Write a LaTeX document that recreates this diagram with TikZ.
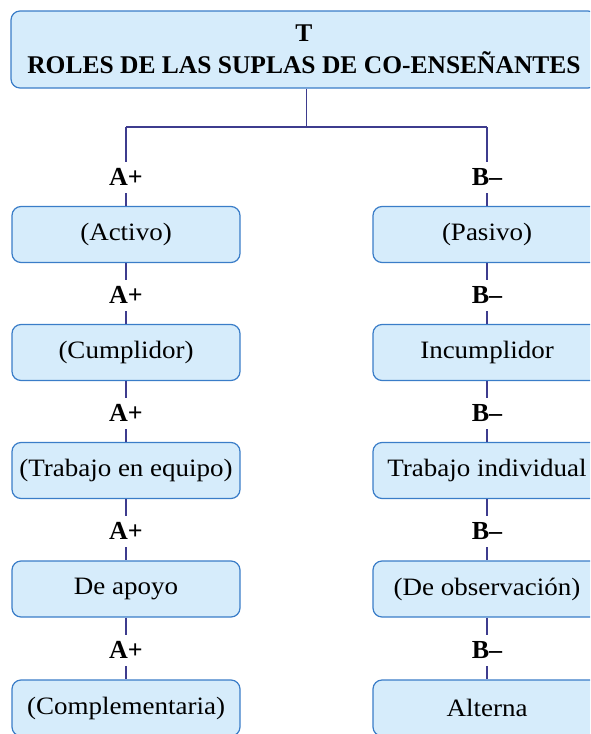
\documentclass[tikz,border=0pt]{standalone}
\usepackage{fontspec}
\setmainfont{Liberation Serif}
\newfontfamily\boxfont[FakeStretch=1.08]{Liberation Serif}
\definecolor{boxfill}{HTML}{D6ECFB}
\definecolor{boxline}{HTML}{3A7DC8}
\definecolor{linkcol}{HTML}{3E3C8E}
\tikzset{
  box/.style={draw=boxline, fill=boxfill, line width=1.2pt, rounded corners=9pt,
    minimum width=228pt, minimum height=56pt, inner sep=0pt,
    font=\boxfont\fontsize{25}{27}\selectfont},
  titlebox/.style={box, minimum width=586pt, minimum height=77pt, align=center,
    font=\bfseries\fontsize{25.5}{32}\selectfont},
  tag/.style={fill=white, inner sep=0pt, minimum height=31pt, minimum width=40pt,
    font=\bfseries\fontsize{26}{26}\selectfont},
  link/.style={draw=linkcol, line width=1.3pt}
}
\begin{document}
\begin{tikzpicture}[x=1pt,y=-1pt]
  \path[use as bounding box] (0,0) rectangle (590,734);
  \clip (0,0) rectangle (590,734);

  % title
  \node[titlebox] (top) at (304,49.5) {T\\ROLES DE LAS SUPLAS DE CO-ENSEÑANTES};

  % two columns of roles
  \node[box] (l1) at (126,234.5) {(Activo)};
  \node[box] (l2) at (126,352.5) {(Cumplidor)};
  \node[box] (l3) at (126,470.5) {(Trabajo en equipo)};
  \node[box] (l4) at (126,589) {De apoyo};
  \node[box] (l5) at (126,708) {(Complementaria)};

  \node[box] (r1) at (487,234.5) {(Pasivo)};
  \node[box] (r2) at (487,352.5) {Incumplidor};
  \node[box] (r3) at (487,470.5) {Trabajo individual};
  \node[box] (r4) at (487,589) {(De observación)};
  \node[box] (r5) at (487,708) {Alterna};

  % branching point under the title
  \coordinate (hub) at (306.5,127);
  \coordinate (hubL) at (126,127);
  \coordinate (hubR) at (487,127);

  \draw[link] (top.south -| hub) -- (hub);
  \draw[link] (hubL) -- (hubR);
  \draw[link] (hubL) -- (l1.north);
  \draw[link] (hubR) -- (r1.north);
  \foreach \a/\b in {1/2,2/3,3/4,4/5}{
    \draw[link] (l\a.south) -- (l\b.north);
    \draw[link] (r\a.south) -- (r\b.north);
  }

  % labels on the connectors
  \node[tag] (ta1) at (126,177) {A+};
  \node[tag] (ta2) at (126,295) {A+};
  \node[tag] (ta3) at (126,413) {A+};
  \node[tag] (ta4) at (126,531) {A+};
  \node[tag] (ta5) at (126,650) {A+};
  \node[tag] (tb1) at (487,177) {B–};
  \node[tag] (tb2) at (487,295) {B–};
  \node[tag] (tb3) at (487,413) {B–};
  \node[tag] (tb4) at (487,531) {B–};
  \node[tag] (tb5) at (487,650) {B–};
\end{tikzpicture}
\end{document}
